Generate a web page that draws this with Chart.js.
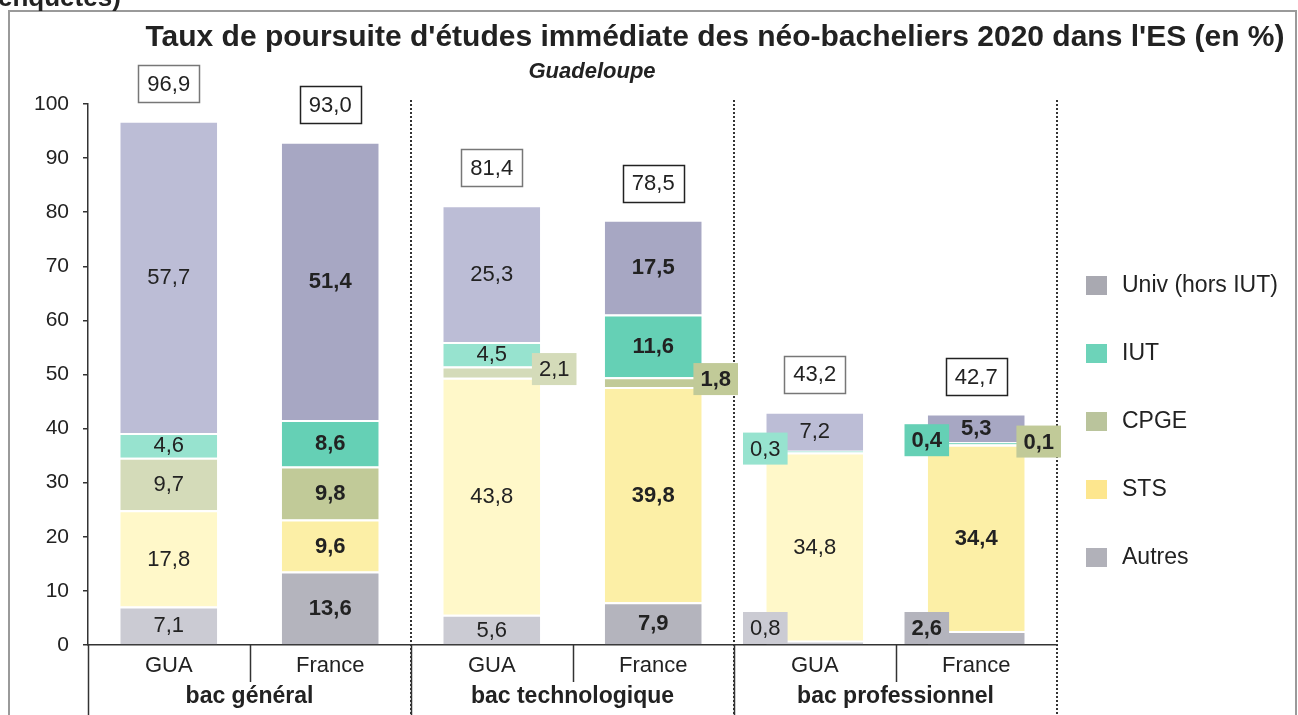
<!DOCTYPE html>
<html>
<head>
<meta charset="utf-8">
<script src="https://cdn.jsdelivr.net/npm/chart.js@4.4.1/dist/chart.umd.min.js"></script>
<style>
  html, body { margin: 0; padding: 0; background: #fff; }
  #wrap { position: relative; width: 1298px; height: 715px; }
</style>
</head>
<body>
<div id="wrap"><canvas id="chart" width="1298" height="715"></canvas></div>
<script>
// data (bottom of the stack first)
const categories = ['GUA', 'France', 'GUA', 'France', 'GUA', 'France'];
const groups = ['bac général', 'bac technologique', 'bac professionnel'];
const autres = [7.1, 13.6, 5.6, 7.9, 0.8, 2.6];
const sts = [17.8, 9.6, 43.8, 39.8, 34.8, 34.4];
const cpge = [9.7, 9.8, 2.1, 1.8, 0, 0.1];
const iut = [4.6, 8.6, 4.5, 11.6, 0.3, 0.4];
const univ = [57.7, 51.4, 25.3, 17.5, 7.2, 5.3];
const totals = [96.9, 93.0, 81.4, 78.5, 43.2, 42.7];

const titleText = "Taux de poursuite d'études immédiate des néo-bacheliers 2020 dans l'ES (en %)";
const subtitleText = 'Guadeloupe';

const FONT = 'Liberation Sans, Arial, sans-serif';

// light colour for GUA, darker one for France
function pair(light, dark) {
    return categories.map((c, i) => i % 2 === 0 ? light : dark);
}

const fmt = v => v.toFixed(1).replace('.', ',');

const labelPlugin = {
    id: 'labels',
    beforeDraw(chart) {
        const ctx = chart.ctx;
        ctx.save();
        // frame around the figure
        ctx.strokeStyle = '#9a9a9a';
        ctx.lineWidth = 2;
        ctx.strokeRect(9, 11, 1287, 720);
        // leftover text of the line above
        ctx.fillStyle = '#222';
        ctx.font = 'bold 26px ' + FONT;
        ctx.textBaseline = 'alphabetic';
        ctx.textAlign = 'left';
        ctx.fillText('enquêtes)', -2, 6);
        // titles
        ctx.textAlign = 'center';
        ctx.font = 'bold 30px ' + FONT;
        ctx.fillText(titleText, 715, 46);
        ctx.font = 'italic bold 22px ' + FONT;
        ctx.fillText(subtitleText, 592, 78);
        ctx.restore();
    },
    beforeDatasetsDraw(chart) {
        const ctx = chart.ctx;
        const x = chart.scales.x;
        const area = chart.chartArea;
        const step = x.getPixelForValue(1) - x.getPixelForValue(0);
        ctx.save();
        // dotted separators between groups
        ctx.strokeStyle = '#333';
        ctx.lineWidth = 2;
        ctx.setLineDash([2, 2]);
        for (let g = 1; g <= groups.length; g++) {
            const px = Math.round(x.getPixelForValue(g * 2 - 1) + step / 2);
            ctx.beginPath();
            ctx.moveTo(px, area.top - 4);
            ctx.lineTo(px, 715);
            ctx.stroke();
        }
        ctx.setLineDash([]);
        ctx.lineWidth = 1.5;
        // solid lines under the axis
        for (let g = 0; g < groups.length; g++) {
            const px = Math.round(x.getPixelForValue(g * 2) - step / 2) + 0.5;
            ctx.beginPath();
            ctx.moveTo(px, area.bottom);
            ctx.lineTo(px, 715);
            ctx.stroke();
            const mid = Math.round(x.getPixelForValue(g * 2) + step / 2) + 0.5;
            ctx.beginPath();
            ctx.moveTo(mid, area.bottom);
            ctx.lineTo(mid, area.bottom + 37);
            ctx.stroke();
        }
        // category and group labels
        ctx.fillStyle = '#222';
        ctx.textAlign = 'center';
        ctx.textBaseline = 'middle';
        ctx.font = '22px ' + FONT;
        categories.forEach((c, i) => ctx.fillText(c, x.getPixelForValue(i), area.bottom + 21));
        ctx.font = 'bold 23px ' + FONT;
        groups.forEach((g, i) => {
            const cx = (x.getPixelForValue(i * 2) + x.getPixelForValue(i * 2 + 1)) / 2;
            ctx.fillText(g, cx, area.bottom + 52);
        });
        ctx.restore();
    },
    afterDatasetsDraw(chart) {
        const ctx = chart.ctx;
        const area = chart.chartArea;
        const y = chart.scales.y;
        ctx.save();
        ctx.textAlign = 'center';
        ctx.textBaseline = 'middle';
        chart.data.datasets.forEach((ds, di) => {
            const meta = chart.getDatasetMeta(di);
            meta.data.forEach((bar, i) => {
                const v = ds.data[i];
                if (!v) return;
                const bold = i % 2 === 1;
                ctx.font = (bold ? 'bold ' : '') + '22px ' + FONT;
                const left = bar.x - bar.width / 2;
                const right = bar.x + bar.width / 2;
                let cy = (bar.y + bar.base) / 2;
                if (v >= 3) {
                    ctx.fillStyle = '#222';
                    ctx.fillText(fmt(v), bar.x, cy + 1);
                    return;
                }
                // small segment: label in a coloured box beside the bar
                const w = ctx.measureText(fmt(v)).width + 14;
                const h = 32;
                const cx = ds.labelSide === 'right' ? right + 14 : left - 1;
                cy = Math.min(cy - 3, area.bottom - h / 2 - 1);
                ctx.fillStyle = ds.backgroundColor[i];
                ctx.fillRect(cx - w / 2, cy - h / 2, w, h);
                ctx.fillStyle = '#222';
                ctx.fillText(fmt(v), cx, cy + 1);
            });
        });
        // totals in boxes above the bars
        const x = chart.scales.x;
        totals.forEach((t, i) => {
            ctx.font = '22px ' + FONT;
            const cx = x.getPixelForValue(i);
            const cy = y.getPixelForValue(t) - 37;
            const w = ctx.measureText(fmt(t)).width + 18;
            const h = 37;
            ctx.fillStyle = '#fff';
            ctx.fillRect(cx - w / 2, cy - h / 2, w, h);
            ctx.strokeStyle = i % 2 === 0 ? '#777' : '#222';
            ctx.lineWidth = 1.5;
            ctx.strokeRect(Math.round(cx - w / 2) + 0.5, Math.round(cy - h / 2) + 0.5, Math.round(w), h);
            ctx.fillStyle = '#222';
            ctx.fillText(fmt(t), cx, cy + 1);
        });
        ctx.restore();
    },
    afterDraw(chart) {
        // legend on the right, top of the stack first
        const ctx = chart.ctx;
        ctx.save();
        ctx.font = '23px ' + FONT;
        ctx.textBaseline = 'middle';
        ctx.textAlign = 'left';
        const items = chart.data.datasets.slice().reverse();
        items.forEach((ds, k) => {
            const cy = 285 + k * 68;
            ctx.fillStyle = ds.legendColor;
            ctx.fillRect(1086, cy - 9, 21, 19);
            ctx.fillStyle = '#222';
            ctx.fillText(ds.label, 1122, cy + 1);
        });
        ctx.restore();
    }
};

const segBorder = { top: 2, bottom: 0, left: 0, right: 0 };

new Chart(document.getElementById('chart').getContext('2d'), {
    type: 'bar',
    data: {
        labels: categories,
        datasets: [
            { label: 'Autres', data: autres, backgroundColor: pair('#cbcbd3', '#b4b4bd'), legendColor: '#b1b1b9', labelSide: 'left' },
            { label: 'STS', data: sts, backgroundColor: pair('#fff8c9', '#fcefa6'), legendColor: '#fde68e', labelSide: 'left' },
            { label: 'CPGE', data: cpge, backgroundColor: pair('#d4dbb9', '#c1ca98'), legendColor: '#bac49c', labelSide: 'right' },
            { label: 'IUT', data: iut, backgroundColor: pair('#97e3cf', '#65d0b5'), legendColor: '#6dd3b9', labelSide: 'left' },
            { label: 'Univ (hors IUT)', data: univ, backgroundColor: pair('#bcbdd6', '#a7a7c3'), legendColor: '#a9a9b1', labelSide: 'left' },
        ].map(ds => Object.assign(ds, {
            borderColor: '#fff',
            borderWidth: segBorder,
            borderSkipped: false,
            barPercentage: 0.6,
            categoryPercentage: 1.0,
        }))
    },
    options: {
        responsive: false,
        animation: false,
        devicePixelRatio: 1,
        layout: { padding: { left: 8, right: 241, top: 104, bottom: 70 } },
        plugins: {
            legend: { display: false },
            title: { display: false },
            tooltip: { enabled: false },
        },
        scales: {
            x: {
                stacked: true,
                ticks: { display: false },
                grid: { display: false, drawTicks: false },
                border: { display: true, color: '#333', width: 1.5 },
            },
            y: {
                stacked: true,
                min: 0,
                max: 100,
                afterFit(scale) { scale.width = 80; },
                ticks: { stepSize: 10, color: '#222', padding: 14, font: { family: FONT, size: 21 } },
                grid: { drawOnChartArea: false, drawTicks: true, tickLength: 5, color: '#333', lineWidth: 1.5 },
                border: { display: true, color: '#333', width: 1.5 },
            }
        }
    },
    plugins: [labelPlugin]
});
</script>
</body>
</html>
